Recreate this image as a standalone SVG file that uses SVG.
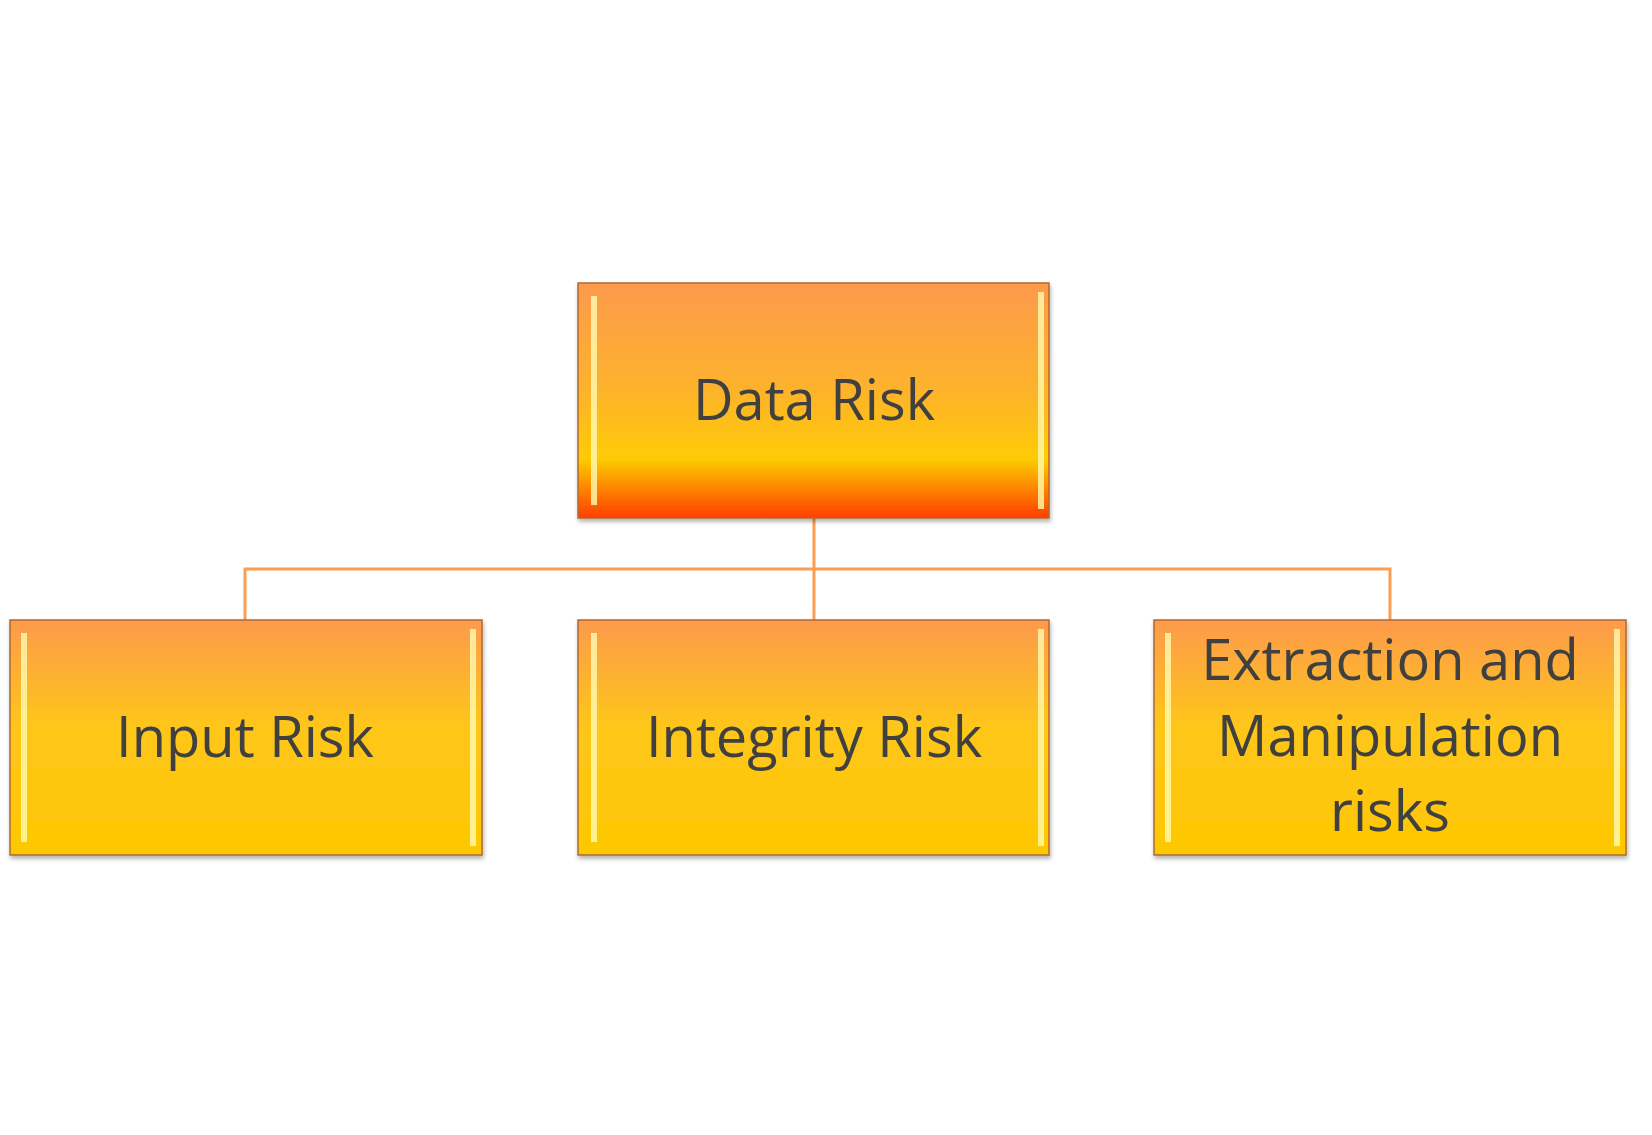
<svg xmlns="http://www.w3.org/2000/svg" width="1652" height="1135" viewBox="0 0 1652 1135">
<defs>
<linearGradient id="gTop" x1="0" y1="0" x2="0" y2="1">
<stop offset="0" stop-color="#fd9a4c"/><stop offset="0.45" stop-color="#fdb22c"/><stop offset="0.75" stop-color="#fecb05"/><stop offset="1" stop-color="#fe3e00"/>
</linearGradient>
<linearGradient id="gChild" x1="0" y1="0" x2="0" y2="1">
<stop offset="0" stop-color="#fd9a4c"/><stop offset="0.45" stop-color="#fec61a"/><stop offset="1" stop-color="#fec800"/>
</linearGradient>
<linearGradient id="gEdge" x1="0" y1="0" x2="1" y2="0">
<stop offset="0" stop-color="#ffff80"/><stop offset="1" stop-color="#ffd040" stop-opacity="0"/>
</linearGradient>
<filter id="sh" x="-5%" y="-5%" width="110%" height="115%"><feDropShadow dx="1" dy="3" stdDeviation="2" flood-color="#000" flood-opacity="0.3"/></filter>
</defs>
<style>
.box{stroke:#b06a30;stroke-width:1.5;filter:url(#sh)}
.hl{fill:#fffbb0;opacity:0.8}
.t{font-family:"Open Sans","Noto Sans",sans-serif;font-size:56px;fill:#404040;text-anchor:middle}
.c{stroke:#fb9d52;stroke-width:3;fill:none}
</style>
<rect width="1652" height="1135" fill="#fff"/>
<g id="connectors">
<path class="c" d="M814 518 V620 M245 620 V569 H1390 V620"/>
</g>
<g id="n0">
<rect class="box" x="578" y="283" width="471" height="235" fill="url(#gTop)"/>
<rect class="hl" x="591" y="296" width="6" height="209"/><rect class="hl" x="1038" y="292" width="6" height="217"/>
<text class="t" x="814" y="420">Data Risk</text>
</g>
<g id="n1">
<rect class="box" x="10" y="620" width="472" height="235" fill="url(#gChild)"/>
<rect class="hl" x="21" y="633" width="6" height="209"/><rect class="hl" x="470" y="629" width="6" height="217"/>
<text class="t" x="245" y="757">Input Risk</text>
</g>
<g id="n2">
<rect class="box" x="578" y="620" width="471" height="235" fill="url(#gChild)"/>
<rect class="hl" x="591" y="633" width="6" height="209"/><rect class="hl" x="1038" y="629" width="6" height="217"/>
<text class="t" x="814" y="757">Integrity Risk</text>
</g>
<g id="n3">
<rect class="box" x="1154" y="620" width="472" height="235" fill="url(#gChild)"/>
<rect class="hl" x="1165" y="633" width="6" height="209"/><rect class="hl" x="1614" y="629" width="6" height="217"/>
<text class="t" x="1390" y="680">Extraction and</text>
<text class="t" x="1390" y="756">Manipulation</text>
<text class="t" x="1390" y="831">risks</text>
</g>
</svg>
